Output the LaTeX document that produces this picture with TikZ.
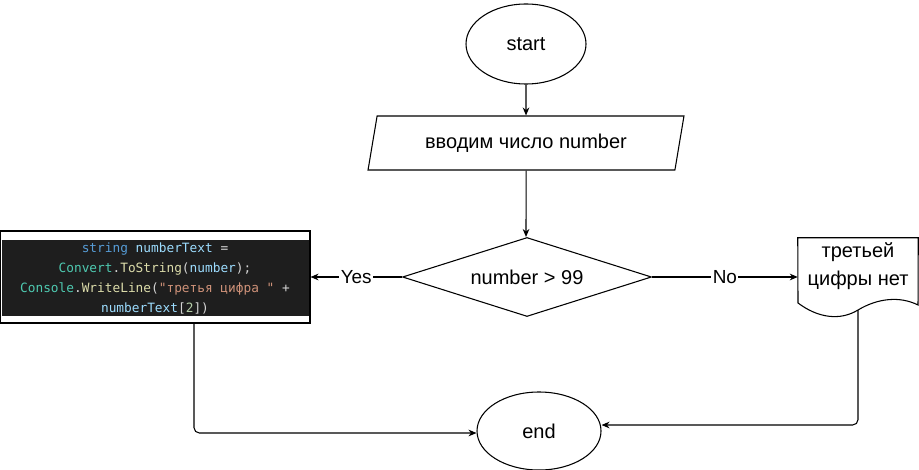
\documentclass[tikz,border=0pt]{standalone}
\usepackage{fontspec}
\setmainfont{Liberation Sans}
\setmonofont{DejaVu Sans Mono}
\usetikzlibrary{shapes.geometric,arrows.meta}
\definecolor{kw}{HTML}{569CD6}
\definecolor{var}{HTML}{9CDCFE}
\definecolor{op}{HTML}{D4D4D4}
\definecolor{cls}{HTML}{4EC9B0}
\definecolor{fn}{HTML}{DCDCAA}
\definecolor{str}{HTML}{CE9178}
\definecolor{num}{HTML}{B5CEA8}
\definecolor{codebg}{HTML}{1E1E1E}
\begin{document}
\begin{tikzpicture}[x=0.75pt,y=-0.75pt,
  every node/.style={inner sep=0pt},
  lbl/.style={font=\fontsize{15pt}{18pt}\selectfont},
  term/.style={draw,ellipse,lbl,line width=0.8pt},
  edgelbl/.style={fill=white,font=\fontsize{14.2pt}{16pt}\selectfont,inner sep=1pt},
  conn/.style={line width=0.8pt,-{Stealth[length=6pt,width=5pt]}},
  bdr/.style={line width=0.8pt}]
\useasboundingbox (0,0) rectangle (919,470);
\node[term,minimum width=120*0.75pt,minimum height=80*0.75pt] (start) at (526,44) {start};
\node[draw,bdr,lbl,trapezium,trapezium left angle=71.6,trapezium right angle=108.4,trapezium stretches=true,minimum width=316*0.75pt,minimum height=54*0.75pt] (in) at (526,143) {вводим число number};
\node[draw,bdr,lbl,diamond,aspect=3.15,minimum width=249*0.75pt,minimum height=79*0.75pt] (d) at (527,277) {number > 99};
% code box
\node[draw,bdr,minimum width=310*0.75pt,minimum height=92*0.75pt] (code) at (155,277) {};
\fill[codebg] (2,240) rectangle (309,316);
\node[align=center,font=\ttfamily\fontsize{9.6pt}{15pt}\selectfont] (codetext) at (155,278) {%
\textcolor{kw}{string} \textcolor{var}{numberText} \textcolor{op}{=}\\
\textcolor{cls}{Convert}\textcolor{op}{.}\textcolor{fn}{ToString}\textcolor{op}{(}\textcolor{var}{number}\textcolor{op}{);}\\
\textcolor{cls}{Console}\textcolor{op}{.}\textcolor{fn}{WriteLine}\textcolor{op}{(}\textcolor{str}{"третья цифра "} \textcolor{op}{+}\\
\textcolor{var}{numberText}\textcolor{op}{[}\textcolor{num}{2}\textcolor{op}{])}};
% document
\node[minimum width=120*0.75pt,minimum height=74*0.75pt] (doc) at (858,275) {};
\draw[bdr] (doc.north west) -- (doc.north east) -- (918,305)
  .. controls (900,296) and (878,298) .. (858,310)
  .. controls (840,321) and (818,318) .. (798,303) -- cycle;
\node[lbl,align=center,font=\fontsize{15pt}{21.5pt}\selectfont] (doctext) at (858,266) {третьей\\цифры нет};
\coordinate (docb) at (858,310);
\node[term,minimum width=124*0.75pt,minimum height=78*0.75pt] (end) at (539,431) {end};
% connectors
\draw[conn] (start) -- (in);
\draw[conn] (in) -- (in.south |- d.north);
\draw[conn] (d.west) -- node[edgelbl]{Yes} (code.east);
\draw[conn] (d.east) -- node[edgelbl]{No} (d.east -| doc.west);
\draw[conn,rounded corners=4pt] ([xshift=39*0.75pt]code.south) |- ([yshift=-2*0.75pt]end.west);
\draw[conn,rounded corners=4pt] (docb) |- ([yshift=6*0.75pt]end.east);
\end{tikzpicture}
\end{document}
